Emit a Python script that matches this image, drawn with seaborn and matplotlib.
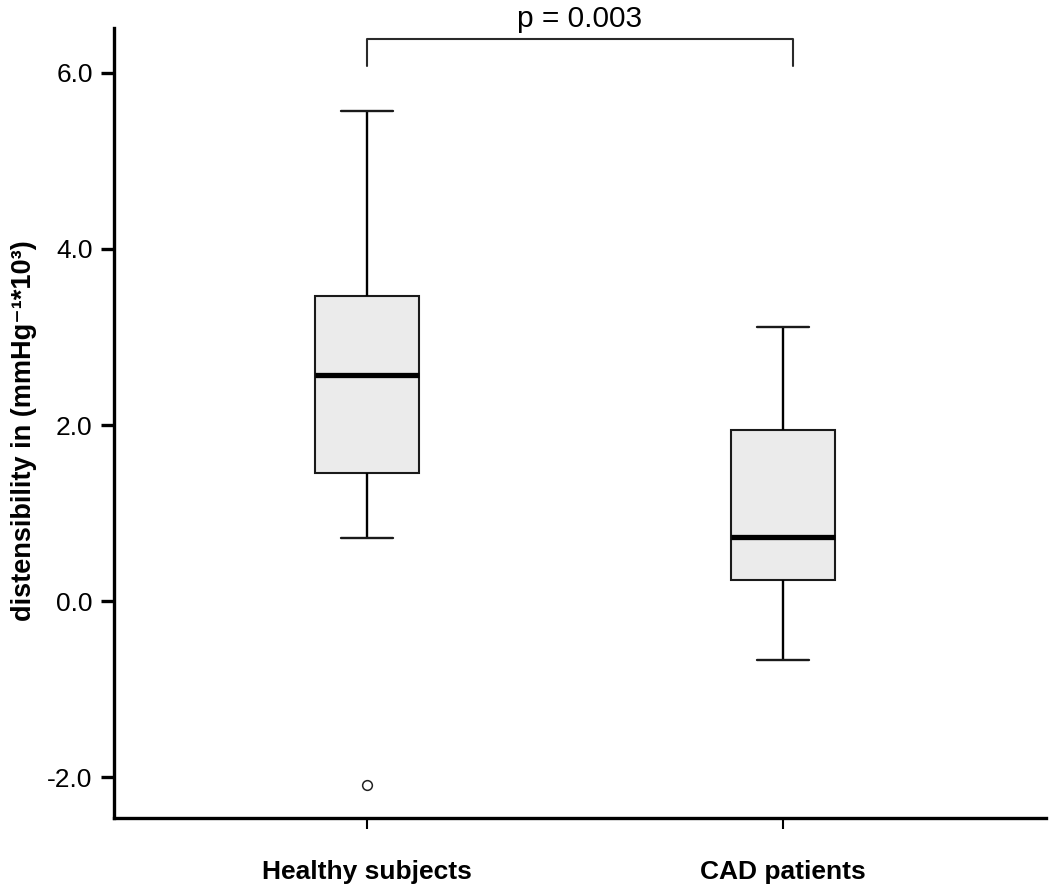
import numpy as np
import pandas as pd
import matplotlib
matplotlib.use("Agg")
import matplotlib.pyplot as plt
from matplotlib.ticker import FormatStrFormatter
import seaborn as sns

# groups and the values (whisker ends, quartiles, median, outlier)
groups = ["Healthy subjects", "CAD patients"]
healthy = [-2.08, 0.72, 1.46, 2.05, 2.57, 3.05, 3.47, 4.40, 5.57]
cad = [-0.665, 0.243, 0.734, 1.944, 3.11]
yticks = [-2.0, 0.0, 2.0, 4.0, 6.0]
p_label = "p = 0.003"
bracket_top = 6.38
bracket_foot = 6.07

df = pd.DataFrame({
    "group": [groups[0]] * len(healthy) + [groups[1]] * len(cad),
    "value": healthy + cad,
})

sns.set_theme(style="ticks")
plt.rcParams["font.family"] = ["Liberation Sans", "DejaVu Sans"]
plt.rcParams["axes.unicode_minus"] = False

fig = plt.figure(figsize=(10.5, 8.93), dpi=100)
ax = fig.add_axes([0.1086, 0.084, 0.8876, 0.885])

sns.boxplot(data=df, x="group", y="value", order=groups, ax=ax,
            width=0.25, color="#ebebeb", saturation=1, linecolor="#1a1a1a",
            linewidth=1.5,
            medianprops=dict(color="black", linewidth=3.8),
            whiskerprops=dict(color="black", linewidth=1.7),
            capprops=dict(color="#1a1a1a", linewidth=1.7),
            flierprops=dict(marker="o", markersize=7, markerfacecolor="white",
                            markeredgecolor="#222222", markeredgewidth=1.1))

ax.set_xlim(-0.608, 1.632)
ax.set_ylim(-2.46, 6.51)
ax.set_yticks(yticks)
ax.yaxis.set_major_formatter(FormatStrFormatter("%.1f"))
sns.despine(ax=ax)
for s in ["left", "bottom"]:
    ax.spines[s].set_linewidth(2.4)
    ax.spines[s].set_color("black")

ax.tick_params(axis="y", length=9.4, width=2.4, pad=6, labelsize=19, colors="black")
ax.tick_params(axis="x", length=8, width=1.5, pad=22, labelsize=19, colors="black")
for t in ax.get_xticklabels():
    t.set_fontweight("bold")

ax.set_xlabel("")
ax.set_ylabel("distensibility in (mmHg\u207b\u00b9*10\u00b3)",
              fontsize=19.5, fontweight="bold", color="black")
ax.yaxis.set_label_coords(-0.083, 0.49)

# significance bracket between the two groups
bx = [0, 0, 1.024, 1.024]
by = [bracket_foot, bracket_top, bracket_top, bracket_foot]
ax.plot(bx, by, color="#2a2a2a", linewidth=1.5, clip_on=False)
ax.text(0.512, bracket_top + 0.07, p_label, ha="center", va="bottom",
        fontsize=21.5, color="black", clip_on=False)

fig.savefig("out.png", dpi=100)
